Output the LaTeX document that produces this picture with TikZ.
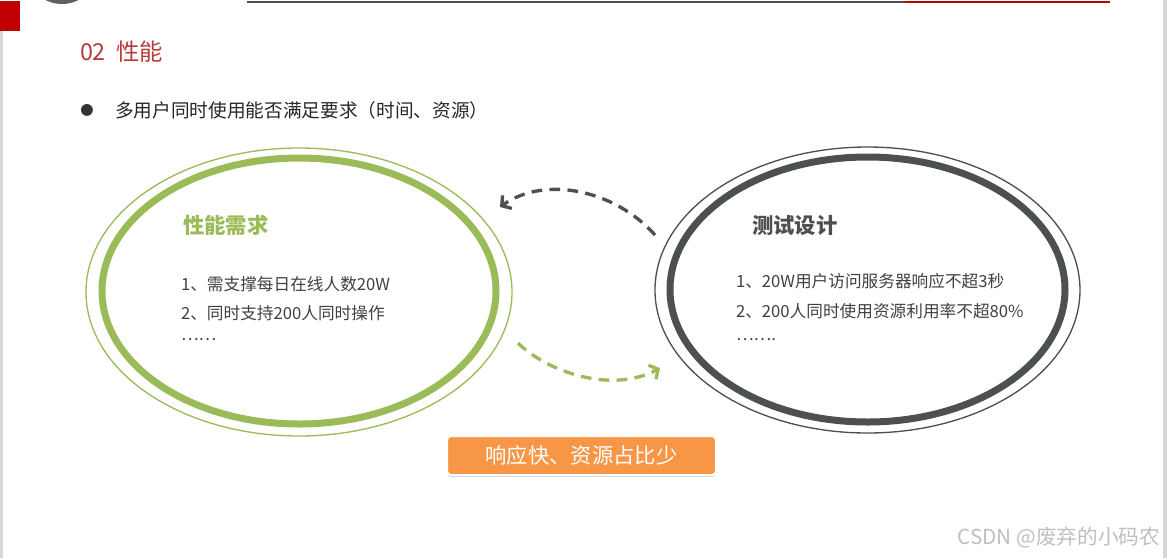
\documentclass[tikz,border=0pt]{standalone}
\usepackage{fontspec}
\setmainfont{Noto Sans CJK SC}
\usetikzlibrary{arrows.meta,positioning,shapes.geometric,shadows}
\definecolor{leafgreen}{RGB}{155,187,89}
\definecolor{slategray}{RGB}{77,80,80}
\definecolor{deepred}{RGB}{192,0,0}
\definecolor{titlered}{RGB}{184,59,59}
\definecolor{boxorange}{RGB}{247,150,70}
\definecolor{textgray}{RGB}{64,64,64}
\definecolor{edgegray}{RGB}{215,215,215}

\begin{document}
\begin{tikzpicture}[
x=0.75pt, y=-0.75pt,
every node/.style={inner sep=0pt, outer sep=0pt},
ring/.style={ellipse, draw, line width=1pt},
band/.style={ellipse, draw, line width=5.25pt},
head/.style={font=\fontsize{16}{19}\selectfont\bfseries, anchor=west},
item/.style={font=\fontsize{12.5}{15}\selectfont, text=textgray, anchor=west},
loop_arrow/.style={line width=2.5pt, dash pattern=on 8pt off 5.5pt, -{Straight Barb[length=5pt, width=12pt]}}
]

\useasboundingbox (0,0) rectangle (1167,558);

% Frame of the slide

\fill[slategray!90] (62,-32) circle [radius=36];
\fill[deepred] (0,1) rectangle (20,31);
\fill[edgegray] (0,31) rectangle (3,558);
\fill[edgegray] (1163,0) rectangle (1167,558);
\draw[slategray, line width=1.5pt] (247,1.5) -- (905,1.5);
\draw[deepred, line width=1.5pt] (905,1.5) -- (1110,1.5);

% Heading

\node[anchor=west, font=\fontsize{17.5}{21}\selectfont, text=titlered] (heading) at (80,52) {02~~性能};

\node[font=\fontsize{10}{12}\selectfont, text=black!80] (dot) at (87,110) {●};

\node[anchor=west, font=\fontsize{14}{17}\selectfont, text=black!85] (question) at (115,110) {多用户同时使用能否满足要求（时间、资源）};

% Left circle: requirements

\node[ring, draw=leafgreen, minimum width=319.5pt, minimum height=216pt] (reqRing) at (299,292) {};

\node[band, draw=leafgreen, minimum width=295.5pt, minimum height=199.5pt] (reqBand) at (299,291) {};

\node[head, text=leafgreen] (reqTitle) at (183,225) {性能需求};

\node[item] (reqOne) at (181,284) {1、需支撑每日在线人数20W};

\node[item] (reqTwo) at (181,313) {2、同时支持200人同时操作};

\node[item] (reqMore) at (181,340) {……};

% Right circle: test design

\node[ring, draw=slategray, minimum width=318.75pt, minimum height=214.5pt] (testRing) at (867.5,290) {};

\node[band, draw=slategray, minimum width=296.25pt, minimum height=198.75pt] (testBand) at (867.5,289.5) {};

\node[head, text=slategray] (testTitle) at (752,225) {测试设计};

\node[item] (testOne) at (736,281) {1、20W用户访问服务器响应不超3秒};

\node[item] (testTwo) at (736,311) {2、200人同时使用资源利用率不超80\%};

\node[item] (testMore) at (736,340) {…….};

% Loop between the two circles

\coordinate (backStart) at (655,235);
\coordinate (backEnd) at (500,207);
\coordinate (forthStart) at (518,343);
\coordinate (forthEnd) at (660,368);

\draw[loop_arrow, slategray] (backStart) .. controls (615,190) and (545,175) .. (backEnd);

\draw[loop_arrow, leafgreen] (forthStart) .. controls (545,370) and (610,395) .. (forthEnd);

% Goal

\node[rectangle, rounded corners=3pt, fill=boxorange, draw=white, line width=1.5pt, minimum width=201.75pt, minimum height=29.25pt, text=white, font=\fontsize{16}{19}\selectfont, drop shadow={shadow xshift=0pt, shadow yshift=-1.5pt, opacity=0.35}] (goal) at (581.5,455.5) {响应快、资源占比少};

\node[anchor=east, font=\fontsize{15.5}{18}\selectfont, text=black!25] (mark) at (1160,538) {CSDN @废弃的小码农};

\end{tikzpicture}
\end{document}
